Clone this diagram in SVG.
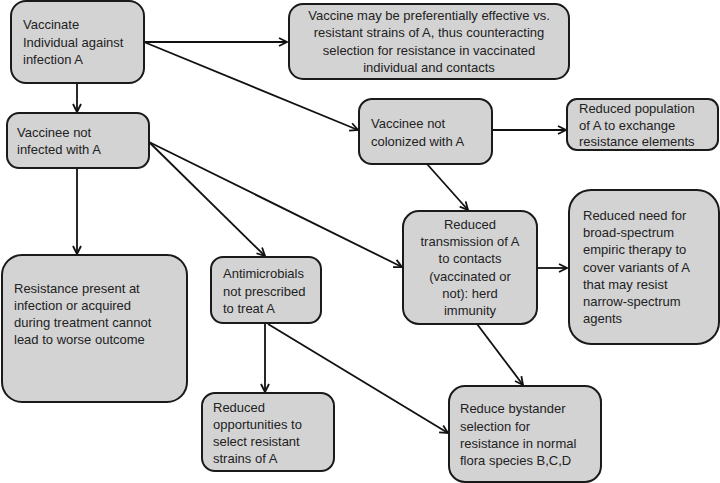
<svg xmlns="http://www.w3.org/2000/svg" width="720" height="483" viewBox="0 0 720 483">
<style>
.box{fill:#d3d3d3;stroke:#1a1a1a;stroke-width:2}
text{font-family:"Liberation Sans",Arial,sans-serif;font-size:13px;fill:#222}
.c{text-anchor:middle}
.ln{stroke:#111;stroke-width:1.8;fill:none;marker-end:url(#arr)}
</style>
<defs>
<marker id="arr" viewBox="0 0 10 10" refX="9" refY="5" markerWidth="10" markerHeight="10" orient="auto" markerUnits="userSpaceOnUse">
<path d="M1,1 L9,5 L1,9" fill="none" stroke="#111" stroke-width="1.8"/>
</marker>
</defs>
<rect width="720" height="483" fill="#fff"/>
<g id="connectors">
<line class="ln" x1="144" y1="42" x2="287" y2="42"/>
<line class="ln" x1="144" y1="42" x2="358" y2="130"/>
<line class="ln" x1="77" y1="83" x2="77" y2="112"/>
<line class="ln" x1="77" y1="168" x2="77" y2="254"/>
<line class="ln" x1="149" y1="142" x2="265" y2="256"/>
<line class="ln" x1="149" y1="142" x2="402" y2="267"/>
<line class="ln" x1="492" y1="130" x2="566" y2="130"/>
<line class="ln" x1="427" y1="164" x2="468" y2="210"/>
<line class="ln" x1="537" y1="268" x2="567" y2="268"/>
<line class="ln" x1="477" y1="324" x2="523" y2="385"/>
<line class="ln" x1="265" y1="323" x2="265" y2="392"/>
<line class="ln" x1="268" y1="324" x2="448" y2="433"/>
</g>
<g id="n1"><rect class="box" x="11" y="1" width="133" height="82" rx="15"/>
<text x="23" y="29">Vaccinate</text><text x="23" y="46.5">Individual against</text><text x="23" y="64">infection A</text></g>
<g id="n2"><rect class="box" x="289" y="4" width="280" height="75" rx="14"/>
<text class="c" x="429" y="19.5">Vaccine may be preferentially effective vs.</text><text class="c" x="429" y="37">resistant strains of A, thus counteracting</text><text class="c" x="429" y="54.5">selection for resistance in vaccinated</text><text class="c" x="429" y="72">individual and contacts</text></g>
<g id="n3"><rect class="box" x="7" y="113" width="142" height="55" rx="12"/>
<text x="17" y="137">Vaccinee not</text><text x="17" y="154">infected with A</text></g>
<g id="n4"><rect class="box" x="359" y="99" width="133" height="65" rx="13"/>
<text x="371" y="128">Vaccinee not</text><text x="371" y="146">colonized with A</text></g>
<g id="n5"><rect class="box" x="567" y="99" width="151" height="51" rx="10"/>
<text x="579" y="113">Reduced population</text><text x="579" y="129.5">of A to exchange</text><text x="579" y="146">resistance elements</text></g>
<g id="n6"><rect class="box" x="2" y="255" width="185" height="147" rx="20"/>
<text x="14" y="293">Resistance present at</text><text x="14" y="310">infection or acquired</text><text x="14" y="327">during treatment cannot</text><text x="14" y="344">lead to worse outcome</text></g>
<g id="n7"><rect class="box" x="211" y="257" width="110" height="66" rx="12"/>
<text x="223" y="278">Antimicrobials</text><text x="223" y="296">not prescribed</text><text x="223" y="313">to treat A</text></g>
<g id="n8"><rect class="box" x="403" y="211" width="134" height="113" rx="16"/>
<text class="c" x="470" y="229">Reduced</text><text class="c" x="470" y="246">transmission of A</text><text class="c" x="470" y="263">to contacts</text><text class="c" x="470" y="281">(vaccinated or</text><text class="c" x="470" y="298">not): herd</text><text class="c" x="470" y="315">immunity</text></g>
<g id="n9"><rect class="box" x="569" y="190" width="150" height="154" rx="22"/>
<text x="583" y="220">Reduced need for</text><text x="583" y="237">broad-spectrum</text><text x="583" y="254">empiric therapy to</text><text x="583" y="272">cover variants of A</text><text x="583" y="289">that may resist</text><text x="583" y="306">narrow-spectrum</text><text x="583" y="323">agents</text></g>
<g id="n10"><rect class="box" x="202" y="393" width="132" height="78" rx="13"/>
<text x="213" y="412">Reduced</text><text x="213" y="429">opportunities to</text><text x="213" y="446">select resistant</text><text x="213" y="463">strains of A</text></g>
<g id="n11"><rect class="box" x="449" y="386" width="152" height="96" rx="16"/>
<text x="460" y="413">Reduce bystander</text><text x="460" y="431">selection for</text><text x="460" y="448">resistance in normal</text><text x="460" y="465">flora species B,C,D</text></g>
</svg>
